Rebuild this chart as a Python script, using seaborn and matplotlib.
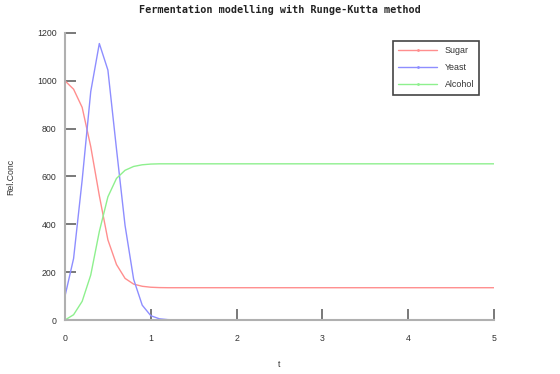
import numpy as np
import pandas as pd
import matplotlib
matplotlib.use("Agg")
import matplotlib.pyplot as plt
from matplotlib.lines import Line2D
import seaborn as sns

# ---- data ----
t = [0.0, 0.1, 0.2, 0.3, 0.4, 0.5, 0.6, 0.7, 0.8, 0.9, 1.0, 1.1, 1.2, 1.3, 1.4, 1.5, 5.0]
sugar = [1000, 965, 889, 725, 520, 335, 232, 174, 150, 141, 137, 135.5, 135, 135, 135, 135, 135]
yeast = [100, 257, 585, 955, 1156, 1045, 715, 395, 170, 62, 18, 5, 1.5, 0.5, 0.1, 0, 0]
alcohol = [0, 22, 78, 188, 370, 515, 592, 626, 642, 649, 652, 653, 653, 653, 653, 653, 653]
series_names = ["Sugar", "Yeast", "Alcohol"]
colors = ["#ff8e8e", "#8e8eff", "#8ef08e"]
x_ticks = [0, 1, 2, 3, 4, 5]
y_ticks = [0, 200, 400, 600, 800, 1000, 1200]
title = "Fermentation modelling with Runge-Kutta method"

df = pd.DataFrame({
    "t": t * 3,
    "value": sugar + yeast + alcohol,
    "series": [n for n in series_names for _ in t],
})

sns.set_style("white")
plt.rcParams["font.family"] = ["Liberation Sans", "DejaVu Sans"]

fig = plt.figure(figsize=(5.6, 3.74), dpi=100)
ax = fig.add_axes([65 / 560, 54 / 374, 429 / 560, 287 / 374])

sns.lineplot(data=df, x="t", y="value", hue="series", hue_order=series_names,
             palette=colors, linewidth=1.0, ax=ax, legend=False)

ax.set_xlim(0, 5)
ax.set_ylim(0, 1200)
ax.set_xticks(x_ticks)
ax.set_yticks(y_ticks)
ax.set_xticklabels([str(v) for v in x_ticks])
ax.set_yticklabels([str(v) for v in y_ticks])

for side in ["top", "right"]:
    ax.spines[side].set_visible(False)
for side in ["left", "bottom"]:
    ax.spines[side].set_color("#b0b0b0")
    ax.spines[side].set_linewidth(1.5)

ax.tick_params(axis="both", which="major", bottom=True, left=True, top=False, right=False,
               direction="in", length=8, width=1.1, colors="#555555",
               labelsize=6.3, labelcolor="#333333")
ax.tick_params(axis="y", pad=6)
ax.tick_params(axis="x", pad=10)

ax.set_xlabel("t", fontsize=6.3, color="#333333", labelpad=12)
ax.set_ylabel("Rel.Conc", fontsize=6.3, color="#333333", labelpad=16)

fig.text(0.5, 1 - 10 / 374, title, ha="center", va="center",
         family="DejaVu Sans Mono", fontsize=7.3, fontweight="bold", color="#222222")

handles = [Line2D([0], [0], color=c, lw=1.0, marker=".", markersize=2) for c in colors]
leg = ax.legend(handles, series_names, loc="upper left",
                bbox_to_anchor=((393 - 65) / 429, (320 - 41) / 287),
                fontsize=6.4, frameon=True, fancybox=False, framealpha=1,
                edgecolor="#444444", handlelength=4.4, handletextpad=0.8,
                labelspacing=0.9, borderpad=0.6, borderaxespad=0, numpoints=1)
leg.get_frame().set_linewidth(1.2)
for txt in leg.get_texts():
    txt.set_color("#333333")

fig.savefig("out.png", dpi=100)
